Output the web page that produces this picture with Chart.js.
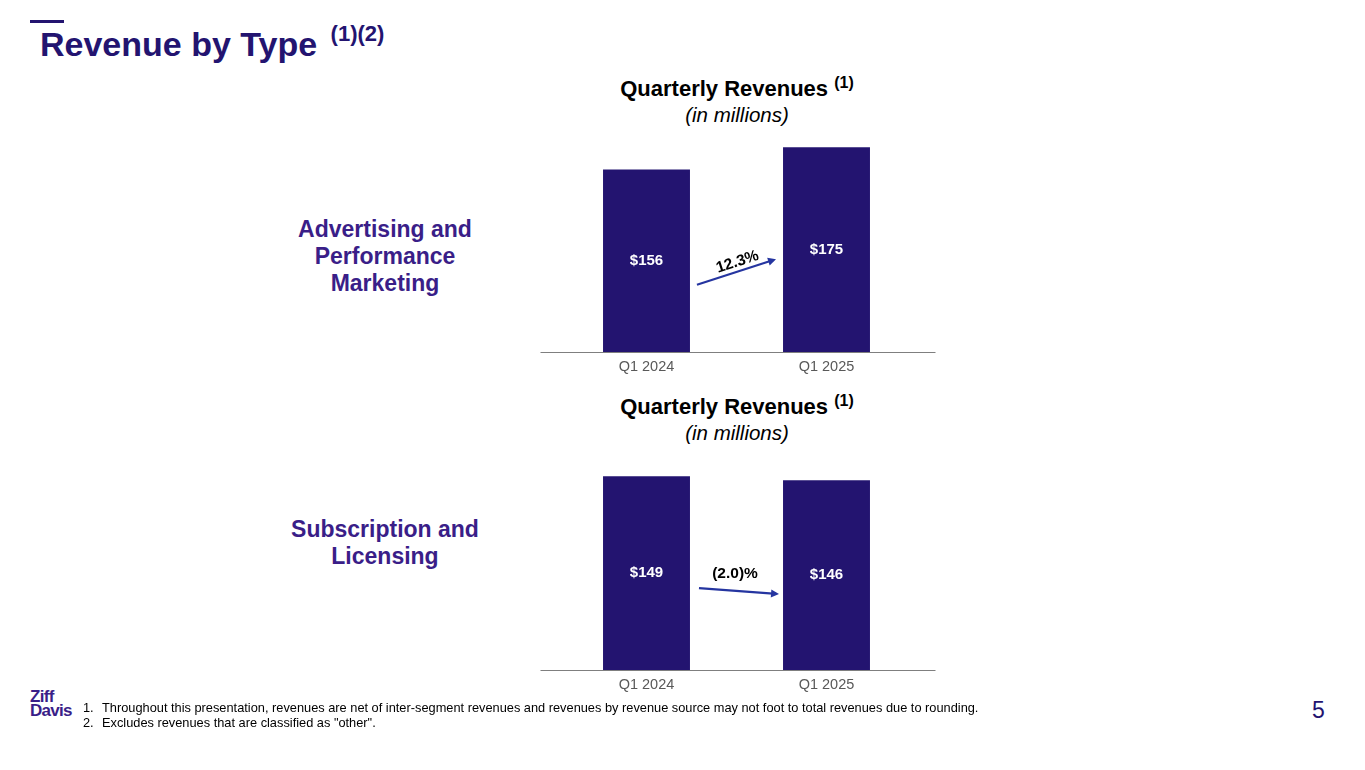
<!DOCTYPE html>
<html>
<head>
<meta charset="utf-8">
<title>Revenue by Type</title>
<script src="https://cdn.jsdelivr.net/npm/chart.js@4.4.1/dist/chart.umd.min.js"></script>
<style>
  html, body { margin: 0; padding: 0; background: #fff; }
  body { width: 1365px; height: 770px; position: relative; overflow: hidden;
         font-family: "Liberation Sans", Arial, sans-serif; }
  .abs { position: absolute; white-space: nowrap; }
  .rule { left: 30px; top: 20px; width: 34px; height: 3px; background: #231470; }
  .title { left: 40px; top: 27px; font-size: 34px; line-height: 34px; font-weight: bold; color: #231470; }
  .title sup { font-size: 22px; vertical-align: 15px; line-height: 0; margin-left: 4px; }
  .ctitle { width: 400px; text-align: center; font-size: 22px; line-height: 24px; font-weight: bold; color: #000; }
  .ctitle sup { font-size: 16px; vertical-align: 8px; line-height: 0; }
  .csub { width: 400px; text-align: center; font-size: 20.5px; line-height: 22px; font-style: italic; color: #000; }
  .side { width: 210px; text-align: center; font-size: 23px; line-height: 27px; font-weight: bold; color: #3a1e88; white-space: normal; }
  .note { left: 83px; font-size: 12.8px; line-height: 14.7px; color: #000; }
  .note span { display: inline-block; width: 19px; }
  .logo { left: 30px; top: 690px; font-size: 17px; line-height: 13.5px; font-weight: bold; color: #3a1e88; letter-spacing: -0.7px; }
  .page { left: 1312px; top: 699px; font-size: 23px; line-height: 23px; color: #231470; }
  canvas { position: absolute; }
</style>
</head>
<body>
<div class="abs rule"></div>
<div class="abs title">Revenue by Type <sup>(1)(2)</sup></div>

<div class="abs ctitle" style="left:537px; top:77px;">Quarterly Revenues <sup>(1)</sup></div>
<div class="abs csub" style="left:537px; top:104px;">(in millions)</div>
<div class="abs side" style="left:280px; top:216px;">Advertising and Performance Marketing</div>

<div class="abs ctitle" style="left:537px; top:395px;">Quarterly Revenues <sup>(1)</sup></div>
<div class="abs csub" style="left:537px; top:422px;">(in millions)</div>
<div class="abs side" style="left:280px; top:516px;">Subscription and Licensing</div>

<canvas id="adChart" width="440" height="275" style="left:520px; top:110px;"></canvas>
<canvas id="subChart" width="440" height="253" style="left:520px; top:450px;"></canvas>

<div class="abs logo">Ziff<br>Davis</div>
<div class="abs note" style="top:701px;"><span>1.</span>Throughout this presentation, revenues are net of inter-segment revenues and revenues by revenue source may not foot to total revenues due to rounding.</div>
<div class="abs note" style="top:716px;"><span>2.</span>Excludes revenues that are classified as "other".</div>
<div class="abs page">5</div>

<script>
// chart values
const quarters = ['Q1 2024', 'Q1 2025'];
const adRevenue = [156, 175];
const subRevenue = [149, 146];
const adChange = '12.3%';
const subChange = '(2.0)%';

Chart.defaults.font.family = '"Liberation Sans", Arial, sans-serif';

const barColor = '#231470';
const arrowColor = '#2535a0';

// "$156" style labels in the middle of each bar
const valueLabels = {
  id: 'valueLabels',
  afterDatasetsDraw(chart) {
    const ctx = chart.ctx;
    const meta = chart.getDatasetMeta(0);
    ctx.save();
    ctx.fillStyle = '#fff';
    ctx.font = 'bold 15px "Liberation Sans", Arial, sans-serif';
    ctx.textAlign = 'center';
    ctx.textBaseline = 'middle';
    meta.data.forEach((bar, i) => {
      const v = chart.data.datasets[0].data[i];
      ctx.fillText('$' + v, bar.x, (bar.y + bar.base) / 2);
    });
    ctx.restore();
  }
};

// baseline that runs a little past the plot on both sides
const baseLine = {
  id: 'baseLine',
  beforeDatasetsDraw(chart) {
    const { ctx, chartArea } = chart;
    const y = chart.scales.y.getPixelForValue(0) + 0.5;
    ctx.save();
    ctx.strokeStyle = '#7f7f7f';
    ctx.lineWidth = 1;
    ctx.beginPath();
    ctx.moveTo(chartArea.left - 16, y);
    ctx.lineTo(chartArea.right + 19, y);
    ctx.stroke();
    ctx.restore();
  }
};

// growth arrow between the two bars
const changeArrow = {
  id: 'changeArrow',
  afterDatasetsDraw(chart, args, opts) {
    const ctx = chart.ctx;
    const [b0, b1] = chart.getDatasetMeta(0).data;
    const mid0 = (b0.y + b0.base) / 2;
    const mid1 = (b1.y + b1.base) / 2;
    const x0 = b0.x + b0.width / 2 + opts.start[0];
    const y0 = mid0 + opts.start[1];
    const x1 = b1.x - b1.width / 2 + opts.end[0];
    const y1 = mid1 + opts.end[1];
    const ang = Math.atan2(y1 - y0, x1 - x0);

    ctx.save();
    ctx.strokeStyle = arrowColor;
    ctx.fillStyle = arrowColor;
    ctx.lineWidth = 2.2;
    ctx.beginPath();
    ctx.moveTo(x0, y0);
    ctx.lineTo(x1 - 6 * Math.cos(ang), y1 - 6 * Math.sin(ang));
    ctx.stroke();
    ctx.beginPath();
    ctx.moveTo(x1, y1);
    ctx.lineTo(x1 - 8 * Math.cos(ang) + 4 * Math.sin(ang), y1 - 8 * Math.sin(ang) - 4 * Math.cos(ang));
    ctx.lineTo(x1 - 8 * Math.cos(ang) - 4 * Math.sin(ang), y1 - 8 * Math.sin(ang) + 4 * Math.cos(ang));
    ctx.closePath();
    ctx.fill();

    ctx.translate((x0 + x1) / 2 + opts.text[0], (y0 + y1) / 2 + opts.text[1]);
    ctx.rotate(opts.rotate * Math.PI / 180);
    ctx.fillStyle = '#000';
    ctx.font = 'bold 15.5px "Liberation Sans", Arial, sans-serif';
    ctx.textAlign = 'center';
    ctx.textBaseline = 'middle';
    ctx.fillText(opts.label, 0, 0);
    ctx.restore();
  }
};

function makeChart(id, values, yMax, padTop, arrow) {
  return new Chart(document.getElementById(id), {
    type: 'bar',
    data: {
      labels: quarters,
      datasets: [{
        data: values,
        backgroundColor: barColor,
        borderWidth: 0,
        categoryPercentage: 1,
        barPercentage: 0.483
      }]
    },
    options: {
      responsive: false,
      animation: false,
      layout: { padding: { left: 36.5, right: 43.5, top: padTop, bottom: 3 } },
      plugins: {
        legend: { display: false },
        tooltip: { enabled: false },
        changeArrow: arrow
      },
      scales: {
        x: {
          grid: { display: false, drawTicks: false },
          border: { display: false },
          ticks: { color: '#595959', font: { size: 14.5 }, padding: 6 },
          afterFit(scale) { scale.height = 30; }
        },
        y: { display: false, min: 0, max: yMax }
      }
    },
    plugins: [baseLine, valueLabels, changeArrow]
  });
}

makeChart('adChart', adRevenue, 200, 8, {
  label: adChange, start: [7, 24], end: [-7, 9.5], text: [1, -10], rotate: -18
});
makeChart('subChart', subRevenue, 160, 12, {
  label: subChange, start: [9, 15], end: [-4, 19], text: [-4, -17], rotate: 0
});
</script>
</body>
</html>
